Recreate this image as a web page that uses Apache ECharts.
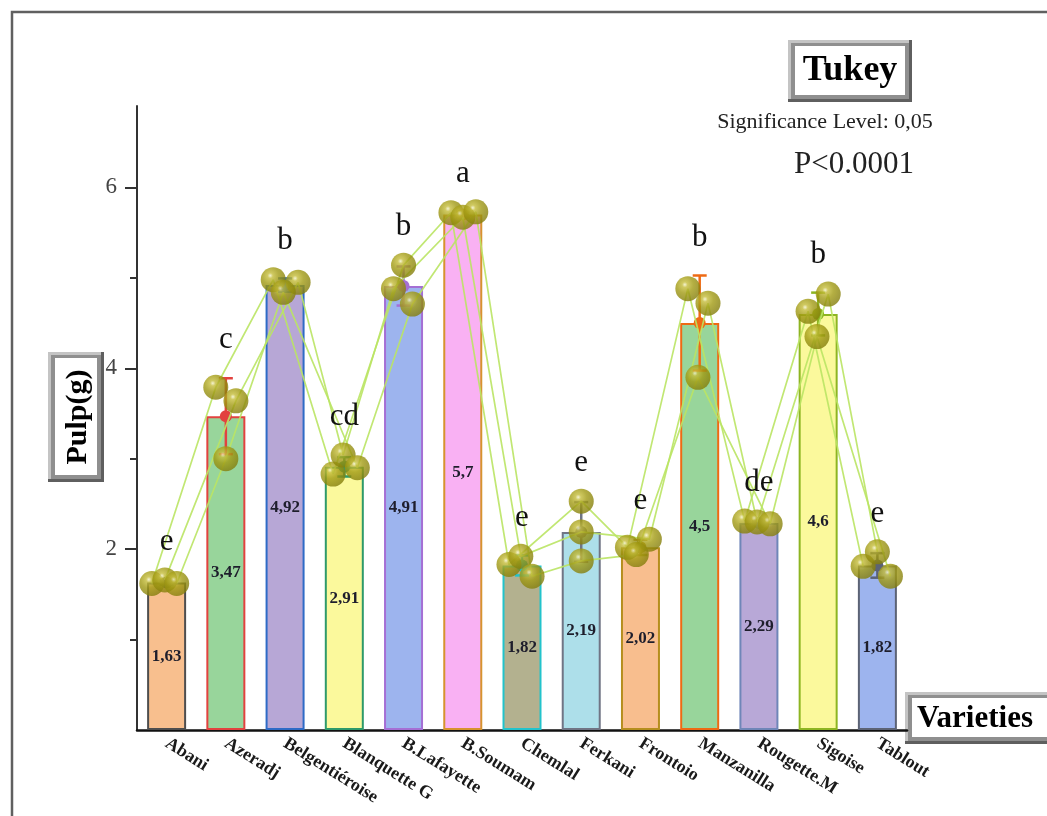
<!DOCTYPE html>
<html>
<head>
<meta charset="utf-8">
<script src="https://cdn.jsdelivr.net/npm/echarts@6/dist/echarts.min.js"></script>
<style>
  html, body { margin: 0; padding: 0; background: #ffffff; }
  #chart { width: 1047px; height: 816px; }
</style>
</head>
<body>
<div id="chart"></div>
<script>
// Pulp weight (g) per olive variety: bar = mean, dots = the three replicates
const varieties = ['Abani', 'Azeradj', 'Belgentiéroise', 'Blanquette G', 'B.Lafayette', 'B.Soumam',
  'Chemlal', 'Ferkani', 'Frontoio', 'Manzanilla', 'Rougette.M', 'Sigoise', 'Tablout'];
const meanPulp = [1.63, 3.47, 4.92, 2.91, 4.91, 5.7, 1.82, 2.19, 2.02, 4.5, 2.29, 4.6, 1.82];
const rep1 = [1.62, 3.79, 4.98, 2.83, 5.14, 5.72, 1.83, 2.53, 2.02, 4.88, 2.31, 4.63, 1.81];
const rep2 = [1.66, 3.64, 4.95, 3.04, 4.88, 5.67, 1.92, 2.19, 2.11, 4.72, 2.30, 4.82, 1.97];
const rep3 = [1.62, 3.00, 4.84, 2.90, 4.71, 5.73, 1.70, 1.87, 1.94, 3.90, 2.28, 4.35, 1.70];
// horizontal spread of the replicate dots inside each category (fraction of a category band)
const jitter1 = [-0.25, -0.17, -0.20, -0.19, 0.00, -0.20, -0.22, 0.00, -0.22, -0.20, -0.24, -0.17, -0.24];
const jitter2 = [-0.03, 0.17, 0.22, -0.02, -0.17, 0.00, -0.02, 0.00, 0.15, 0.14, -0.03, 0.17, 0.00];
const jitter3 = [0.17, 0.00, -0.03, 0.22, 0.15, 0.22, 0.17, 0.00, -0.07, -0.03, 0.19, -0.02, 0.22];
// Tukey grouping letters (alpha = 0.05)
const tukeyGroups = ['e', 'c', 'b', 'cd', 'b', 'a', 'e', 'e', 'e', 'b', 'de', 'b', 'e'];
const yTickLabels = [2, 4, 6];
const yMinorTicks = [1, 3, 5];

const fillColors = ['#F8BF8E', '#98D59B', '#B7A7D6', '#FBF99C', '#9DB4EE', '#F9B1F3', '#B3B18F',
  '#ADDFEA', '#F8BE8E', '#98D59B', '#B8A8D7', '#FBF99C', '#9DB4EE'];
const edgeColors = ['#4E4E4E', '#E2423F', '#2E6BC6', '#2E9A6A', '#A56FD4', '#D7932E', '#22C3CC',
  '#707585', '#B58E1E', '#EE6A14', '#6F86B8', '#8DB522', '#5C6375'];

const SERIF = "'Liberation Serif', 'DejaVu Serif', serif";

// sample standard deviation of the replicates, used for the whiskers
const reps = [rep1, rep2, rep3];
const jitters = [jitter1, jitter2, jitter3];
const sdPulp = meanPulp.map((m, i) => {
  const vals = reps.map(r => r[i]);
  const avg = vals.reduce((a, b) => a + b, 0) / vals.length;
  const ss = vals.reduce((a, v) => a + (v - avg) * (v - avg), 0);
  return Math.sqrt(ss / (vals.length - 1));
});
// letters sit a little above the highest mark of each variety
const letterLevel = meanPulp.map((m, i) =>
  Math.max(rep1[i], rep2[i], rep3[i], m + sdPulp[i]) + 0.42);

const chart = echarts.init(document.getElementById('chart'), null, { renderer: 'canvas' });

const olive = new echarts.graphic.RadialGradient(0.38, 0.34, 0.68, [
  { offset: 0, color: '#f2f0c6' },
  { offset: 0.16, color: '#c4bc3a' },
  { offset: 0.5, color: '#a19a13' },
  { offset: 1, color: '#847e0b' }
]);

function bevelBox(x, y, w, h) {
  return [
    { type: 'rect', shape: { x: x, y: y, width: w, height: h }, style: { fill: '#5f5f5f' } },
    { type: 'rect', shape: { x: x, y: y, width: w - 3, height: h - 3 }, style: { fill: '#c4c4c4' } },
    { type: 'rect', shape: { x: x + 3, y: y + 3, width: w - 6, height: h - 6 }, style: { fill: '#8f8f8f' } },
    { type: 'rect', shape: { x: x + 7, y: y + 6, width: w - 14, height: h - 13 }, style: { fill: '#ffffff' } }
  ];
}

function repPoints(values, jit) {
  return values.map((v, i) => [i + jit[i], v]);
}

const replicateLines = reps.map((r, k) => ({
  type: 'line',
  xAxisIndex: 1,
  yAxisIndex: 0,
  data: repPoints(r, jitters[k]),
  symbol: 'none',
  lineStyle: { color: 'rgba(186, 228, 100, 0.9)', width: 1.7 },
  z: 4,
  silent: true
}));

const replicateDots = reps.map((r, k) => ({
  type: 'scatter',
  xAxisIndex: 1,
  yAxisIndex: 0,
  data: repPoints(r, jitters[k]),
  symbol: 'circle',
  symbolSize: 25,
  itemStyle: { color: olive },
  z: 5,
  silent: true
}));

const centered = { textAlign: 'center', textVerticalAlign: 'middle', align: 'center', verticalAlign: 'middle' };

const option = {
  animation: false,
  backgroundColor: '#ffffff',
  grid: { left: 137, right: 140, top: 106, bottom: 86, containLabel: false },
  xAxis: [
    {
      type: 'category',
      data: varieties,
      axisLine: { onZero: false, lineStyle: { color: '#111', width: 2.5 } },
      axisTick: { alignWithLabel: true, length: 9, lineStyle: { color: '#111', width: 2 } },
      axisLabel: {
        interval: 0, rotate: -32, margin: 12,
        fontFamily: SERIF, fontWeight: 'bold', fontSize: 18, color: '#1a1a1a'
      },
      splitLine: { show: false }
    },
    { type: 'value', min: -0.5, max: 12.5, show: false }
  ],
  yAxis: [
    {
      type: 'value', min: 0, max: 6.9, interval: 2,
      axisLine: { show: true, onZero: false, lineStyle: { color: '#333', width: 2 } },
      axisTick: { show: true, customValues: yTickLabels, length: 12, lineStyle: { color: '#333', width: 2 } },
      axisLabel: { customValues: yTickLabels, fontFamily: SERIF, fontSize: 23, color: '#444', margin: 20 },
      splitLine: { show: false }
    },
    {
      type: 'value', min: 0, max: 6.9, interval: 1, position: 'left', offset: 0,
      axisLine: { show: false, onZero: false },
      axisTick: { show: true, customValues: yMinorTicks, length: 7, lineStyle: { color: '#333', width: 2 } },
      axisLabel: { show: false },
      splitLine: { show: false }
    }
  ],
  series: [
    {
      type: 'bar',
      xAxisIndex: 0, yAxisIndex: 0,
      barWidth: 39,
      data: meanPulp.map((v, i) => ({
        value: v,
        itemStyle: { color: fillColors[i], borderColor: edgeColors[i], borderWidth: 2 }
      })),
      label: {
        show: true, position: 'inside',
        formatter: p => String(p.value).replace('.', ','),
        fontFamily: SERIF, fontWeight: 'bold', fontSize: 17, color: '#1e1e2c'
      },
      z: 2
    },
    {
      // mean marker with ± SD whisker in each bar's edge colour
      type: 'custom',
      xAxisIndex: 0, yAxisIndex: 0,
      data: meanPulp.map((m, i) => [i, m, sdPulp[i]]),
      renderItem: function (params, api) {
        const i = api.value(0), m = api.value(1), s = api.value(2);
        const c = api.coord([i, m]);
        const hi = api.coord([i, m + s]);
        const lo = api.coord([i, m - s]);
        const col = edgeColors[params.dataIndex];
        const st = { stroke: col, lineWidth: 2.5 };
        return {
          type: 'group',
          children: [
            { type: 'line', shape: { x1: c[0], y1: hi[1], x2: c[0], y2: lo[1] }, style: st },
            { type: 'line', shape: { x1: c[0] - 7, y1: hi[1], x2: c[0] + 7, y2: hi[1] }, style: st },
            { type: 'line', shape: { x1: c[0] - 7, y1: lo[1], x2: c[0] + 7, y2: lo[1] }, style: st },
            { type: 'circle', shape: { cx: c[0], cy: c[1], r: 6 }, style: { fill: col } }
          ]
        };
      },
      z: 3,
      silent: true
    },
    ...replicateLines,
    ...replicateDots,
    {
      // Tukey group letters
      type: 'custom',
      xAxisIndex: 0, yAxisIndex: 0,
      data: letterLevel.map((v, i) => [i, v]),
      renderItem: function (params, api) {
        const p = api.coord([api.value(0), api.value(1)]);
        return {
          type: 'text',
          x: p[0], y: p[1],
          style: Object.assign({
            text: tukeyGroups[params.dataIndex],
            fill: '#111',
            font: '31px ' + SERIF
          }, centered)
        };
      },
      z: 6,
      silent: true
    }
  ],
  graphic: [
    // outer frame
    { type: 'rect', shape: { x: 12, y: 12, width: 1100, height: 900 },
      style: { fill: 'none', stroke: '#606060', lineWidth: 2.5 }, z: 0 },
    // y axis title
    { type: 'group', children: bevelBox(48, 352, 56, 130) },
    { type: 'text', x: 78, y: 417, rotation: Math.PI / 2,
      style: Object.assign({ text: 'Pulp(g)', font: 'bold 30px ' + SERIF, fill: '#000' }, centered) },
    // test name and result
    { type: 'group', children: bevelBox(788, 40, 124, 62) },
    { type: 'text', x: 850, y: 71,
      style: Object.assign({ text: 'Tukey', font: 'bold 36px ' + SERIF, fill: '#000' }, centered) },
    { type: 'text', x: 825, y: 122,
      style: Object.assign({ text: 'Significance Level: 0,05', font: '22px ' + SERIF, fill: '#222' }, centered) },
    { type: 'text', x: 854, y: 165,
      style: Object.assign({ text: 'P<0.0001', font: '31px ' + SERIF, fill: '#222' }, centered) },
    // x axis title
    { type: 'group', children: bevelBox(905, 692, 150, 52) },
    { type: 'text', x: 975, y: 719,
      style: Object.assign({ text: 'Varieties', font: 'bold 31px ' + SERIF, fill: '#000' }, centered) }
  ]
};

chart.setOption(option);
</script>
</body>
</html>
